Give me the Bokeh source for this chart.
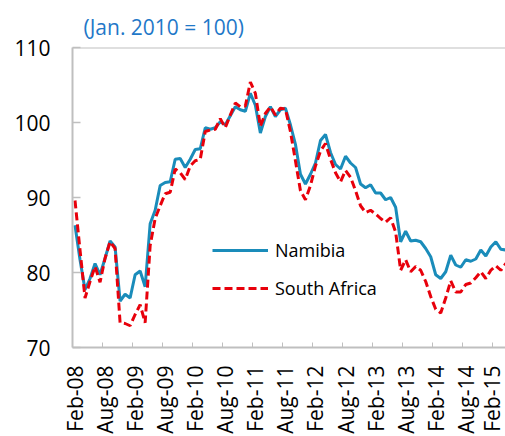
import math
from bokeh.plotting import figure
from bokeh.models import FixedTicker, Span, Legend, LegendItem, ColumnDataSource, Range1d
from bokeh.embed import file_html
from bokeh.resources import INLINE

# Monthly index, Feb-2008 onward (Jan. 2010 = 100)
namibia = [86.3, 81.7, 77.7, 79.2, 81.2, 79.7, 81.9, 84.2, 83.4, 76.2,
           77.1, 76.6, 79.7, 80.2, 78.1, 86.5, 88.3, 91.6, 92.0, 92.1,
           95.1, 95.2, 94.0, 95.1, 96.4, 96.5, 99.3, 99.1, 99.3, 100.1,
           99.7, 100.9, 102.1, 101.7, 101.5, 103.9, 102.3, 98.6, 100.8, 102.1,
           100.8, 101.7, 101.9, 99.7, 97.1, 93.1, 91.8, 93.1, 94.6, 97.6,
           98.4, 96.0, 94.4, 93.8, 95.5, 94.6, 94.0, 91.8, 91.3, 91.7,
           90.6, 90.6, 89.7, 90.0, 88.7, 84.1, 85.5, 84.2, 84.3, 84.1,
           83.2, 82.1, 79.7, 79.2, 80.1, 82.3, 81.0, 80.7, 81.7, 81.5,
           81.8, 83.0, 82.2, 83.4, 84.1, 83.1, 83.0]
south_africa = [89.6, 83.0, 76.6, 78.8, 80.8, 78.7, 81.9, 84.1, 83.2, 73.3,
                73.2, 72.9, 74.4, 75.7, 73.3, 83.6, 87.2, 88.9, 90.5, 90.7,
                93.8, 93.3, 92.4, 94.2, 94.9, 95.1, 98.8, 99.0, 99.1, 100.5,
                99.3, 101.0, 102.6, 102.1, 102.2, 105.4, 103.9, 99.5, 101.2, 102.1,
                101.0, 101.9, 101.8, 98.8, 94.9, 90.9, 89.7, 91.6, 94.2, 96.2,
                97.2, 95.1, 93.3, 92.1, 93.6, 92.7, 90.9, 88.9, 88.0, 88.3,
                87.8, 87.2, 86.7, 87.3, 85.4, 80.3, 81.7, 80.1, 80.8, 80.3,
                78.8, 76.8, 75.1, 74.6, 76.6, 78.9, 77.4, 77.4, 78.4, 78.6,
                79.3, 80.1, 79.2, 80.3, 80.9, 80.3, 81.2]
month_index = list(range(len(namibia)))
tick_labels = ["Feb-08", "Aug-08", "Feb-09", "Aug-09", "Feb-10", "Aug-10", "Feb-11",
               "Aug-11", "Feb-12", "Aug-12", "Feb-13", "Aug-13", "Feb-14", "Aug-14", "Feb-15"]
y_ticks = [70, 80, 90, 100, 110]

FONT = "Open Sans"
GRAY = "#bfbfbf"
BLUE = "#1a8cba"
RED = "#e8000b"

src = ColumnDataSource(dict(x=month_index, nam=namibia, sa=south_africa))

p = figure(width=505, height=436, output_backend="svg", toolbar_location=None,
           x_range=Range1d(-0.5, 85.93), y_range=Range1d(70, 110),
           min_border_left=72, min_border_right=0, min_border_top=47, min_border_bottom=86,
           title="(Jan. 2010 = 100)")
p.outline_line_color = None
p.background_fill_color = "white"
p.border_fill_color = "white"
p.xgrid.visible = False
p.ygrid.visible = False

p.title.text_font = FONT
p.title.text_font_size = "21px"
p.title.text_font_style = "normal"
p.title.text_color = "#1f78c8"
p.title.align = "left"
p.title.vertical_align = "top"
p.title.offset = 11
p.title.standoff = 10

label_pos = [6 * k for k in range(len(tick_labels))]
minor_pos = [5.4 + 6 * k for k in range(len(tick_labels) - 1)]
xa = p.xaxis[0]
xa.ticker = FixedTicker(ticks=label_pos, minor_ticks=minor_pos)
xa.major_label_overrides = {pos: lab for pos, lab in zip(label_pos, tick_labels)}
xa.major_label_orientation = math.pi / 2
xa.major_label_text_font = FONT
xa.major_label_text_font_size = "21px"
xa.major_label_text_color = "black"
xa.major_label_standoff = 18
xa.major_tick_line_color = None
xa.major_tick_out = 0
xa.minor_tick_in = 5
xa.minor_tick_out = 0
xa.minor_tick_line_color = GRAY
xa.minor_tick_line_width = 1
xa.axis_line_color = GRAY
xa.axis_line_width = 2

ya = p.yaxis[0]
ya.ticker = FixedTicker(ticks=y_ticks)
ya.major_label_text_font = FONT
ya.major_label_text_font_size = "21px"
ya.major_label_text_color = "black"
ya.major_label_standoff = 22
ya.major_tick_in = 8
ya.major_tick_out = 0
ya.major_tick_line_color = GRAY
ya.major_tick_line_width = 1.5
ya.minor_tick_line_color = None
ya.axis_line_color = GRAY
ya.axis_line_width = 2

p.add_layout(Span(location=110, dimension="width", line_color=GRAY, line_width=2))

r1 = p.line("x", "nam", source=src, line_color=BLUE, line_width=3)
r2 = p.line("x", "sa", source=src, line_color=RED, line_width=3, line_dash="8 4")

legend = Legend(items=[LegendItem(label="Namibia", renderers=[r1]),
                       LegendItem(label="South Africa", renderers=[r2])],
                location=(140, 44), orientation="vertical")
legend.label_text_font = FONT
legend.label_text_font_size = "18px"
legend.label_text_color = "black"
legend.glyph_width = 56
legend.glyph_height = 30
legend.label_height = 30
legend.label_standoff = 7
legend.spacing = 8
legend.padding = 0
legend.margin = 0
legend.background_fill_alpha = 0
legend.border_line_color = None
p.add_layout(legend)

open("out.html", "w").write(file_html(p, INLINE))
